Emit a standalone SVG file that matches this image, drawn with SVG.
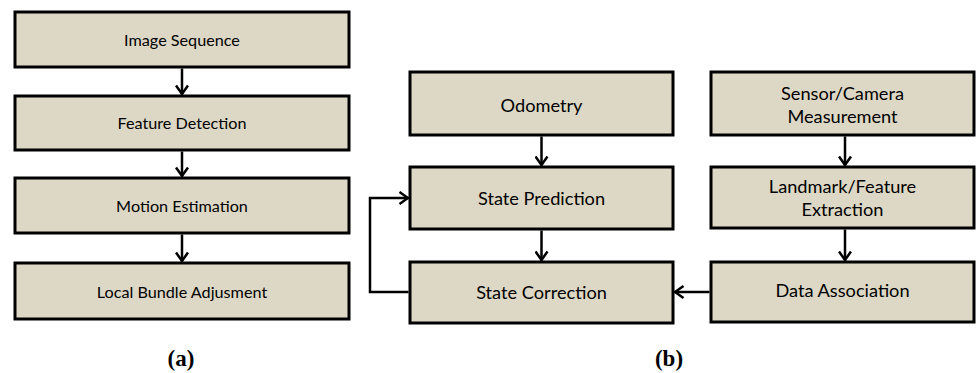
<svg xmlns="http://www.w3.org/2000/svg" width="976" height="373" viewBox="0 0 976 373">
<style>
.box{fill:#DDD8C5;stroke:#000;stroke-width:3}
.t{font-family:Lato,"Open Sans",sans-serif;fill:#000;text-anchor:middle}
.s{font-size:16.2px}
.b{font-size:18.2px}
.c{fill:none;stroke:#000;stroke-width:2.5}
.cap{font-family:"Liberation Serif",serif;font-weight:bold;font-size:23px;text-anchor:middle}
</style>
<defs>
<marker id="ah" viewBox="0 0 12 14" refX="11" refY="7" markerWidth="12" markerHeight="14" markerUnits="userSpaceOnUse" orient="auto">
<polyline points="2,1 10.5,7 2,13" fill="none" stroke="#000" stroke-width="2.5"/>
</marker>
</defs>
<g id="n-image-sequence"><rect class="box" x="15" y="12" width="334" height="55"/><text class="t s" x="182" y="46">Image Sequence</text></g>
<g id="n-feature-detection"><rect class="box" x="15" y="96" width="334" height="54"/><text class="t s" x="182" y="129">Feature Detection</text></g>
<g id="n-motion-estimation"><rect class="box" x="15" y="178" width="334" height="55"/><text class="t s" x="182" y="212">Motion Estimation</text></g>
<g id="n-local-bundle"><rect class="box" x="15" y="263" width="334" height="56"/><text class="t s" x="182" y="298">Local Bundle Adjusment</text></g>
<g id="n-odometry"><rect class="box" x="410" y="72" width="263" height="63"/><text class="t b" x="541.5" y="112">Odometry</text></g>
<g id="n-state-prediction"><rect class="box" x="410" y="167" width="263" height="62"/><text class="t b" x="541.5" y="205">State Prediction</text></g>
<g id="n-state-correction"><rect class="box" x="410" y="262" width="263" height="61"/><text class="t b" x="541.5" y="299">State Correction</text></g>
<g id="n-sensor"><rect class="box" x="711" y="72" width="263" height="63"/><text class="t b" x="842.5" y="100">Sensor/Camera</text><text class="t b" x="842.5" y="123">Measurement</text></g>
<g id="n-landmark"><rect class="box" x="711" y="167" width="263" height="61"/><text class="t b" x="842.5" y="193">Landmark/Feature</text><text class="t b" x="842.5" y="216">Extraction</text></g>
<g id="n-data-association"><rect class="box" x="711" y="262" width="263" height="60"/><text class="t b" x="842.5" y="297">Data Association</text></g>
<g id="connectors">
<line class="c" x1="182" y1="68.5" x2="182" y2="94.5" marker-end="url(#ah)"/>
<line class="c" x1="182" y1="151.5" x2="182" y2="176.5" marker-end="url(#ah)"/>
<line class="c" x1="182" y1="234.5" x2="182" y2="261.5" marker-end="url(#ah)"/>
<line class="c" x1="541.5" y1="136.5" x2="541.5" y2="165.5" marker-end="url(#ah)"/>
<line class="c" x1="541.5" y1="230.5" x2="541.5" y2="260.5" marker-end="url(#ah)"/>
<line class="c" x1="845" y1="136.5" x2="845" y2="165.5" marker-end="url(#ah)"/>
<line class="c" x1="845" y1="229.5" x2="845" y2="260.5" marker-end="url(#ah)"/>
<line class="c" x1="709.5" y1="292" x2="674.5" y2="292" marker-end="url(#ah)"/>
<polyline class="c" points="408.5,292 370,292 370,198 408.5,198" marker-end="url(#ah)"/>
</g>
<text class="cap" x="181" y="366">(a)</text>
<text class="cap" x="669" y="366">(b)</text>
</svg>
